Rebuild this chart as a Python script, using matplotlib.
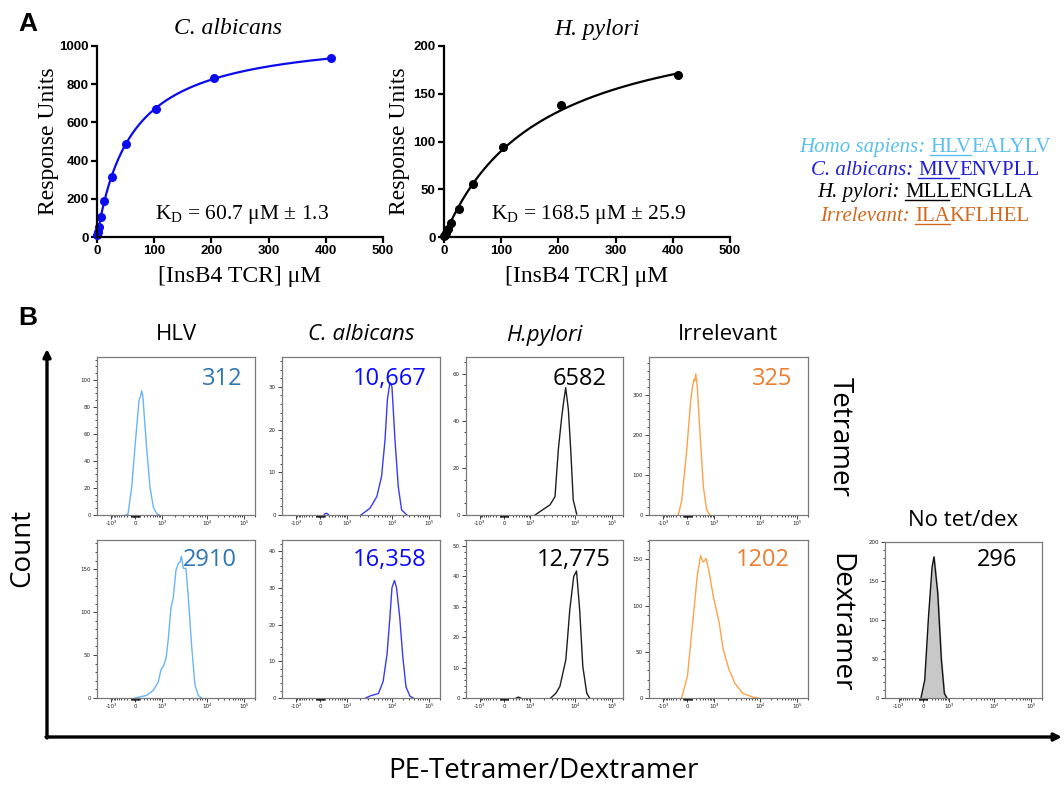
import numpy as np
import matplotlib
matplotlib.use("Agg")
import matplotlib.pyplot as plt
from matplotlib.ticker import AutoMinorLocator
from matplotlib.lines import Line2D
from matplotlib.patches import FancyArrowPatch

plt.rcParams["mathtext.fontset"] = "custom"
plt.rcParams["mathtext.rm"] = "Liberation Serif"
plt.rcParams["mathtext.it"] = "Liberation Serif:italic"

# ---- panel A : SPR, InsB4 TCR titration
conc = [0.8, 1.6, 3.2, 6.4, 12.8, 25.6, 51.2, 102.4, 204.8, 409.6]
ca_ru = [13, 27, 52, 104, 189, 316, 488, 672, 830, 935]
hp_ru = [1, 2, 4, 8, 15, 29, 55, 94, 138, 170]
ca_kd, ca_rmax = 60.7, 1074
hp_kd, hp_rmax = 168.5, 242
ca_kd_txt = r"K$_{\mathrm{D}}$ = 60.7 μM ± 1.3"
hp_kd_txt = r"K$_{\mathrm{D}}$ = 168.5 μM ± 25.9"

# ---- panel B : flow histograms (x = display channel 0-1000, y = count)
col_titles = ["HLV", "C. albicans", "H.pylori", "Irrelevant"]
tet_hlv_x = [180, 196, 220, 240, 266, 276, 283, 290, 314, 335, 356, 378, 395]
tet_hlv_y = [0, 0.5, 21, 50, 85, 88, 92, 88, 50, 21, 6, 1, 0]
tet_ca_x = [265, 272, 280, 288, 295]
tet_ca_y = [0, 0.3, 0.4, 0.3, 0]
tet_ca2_x = [500, 557, 600, 630, 652, 667, 683, 696, 715, 736, 757, 790]
tet_ca2_y = [0, 1.6, 4.3, 9, 17.6, 27, 31, 30, 17.6, 6.6, 1.2, 0]
tet_hp_x = [440, 470, 535, 567, 588, 610, 624, 635, 652, 667, 683, 705]
tet_hp_y = [0, 1.4, 4.3, 7.8, 27.7, 41.8, 49, 54, 44.7, 27.7, 6.4, 0.4]
tet_irr_x = [184, 206, 237, 262, 272, 283, 288, 294, 304, 321, 342, 363, 384]
tet_irr_y = [0, 37, 161, 285, 317, 339, 335, 353, 318, 203, 70, 12, 0]

dex_hlv_x = [240, 314, 357, 388, 405, 420, 437, 452, 468, 483, 500, 515, 525, 534, 547, 563, 578, 600, 620, 641, 662]
dex_hlv_y = [0, 3, 9, 19, 33, 37, 46, 70, 105, 117, 149, 157, 158, 165, 151, 151, 117, 58, 15, 3, 0]
dex_ca_x = [530, 560, 610, 640, 665, 683, 696, 712, 725, 745, 765, 785, 810, 830]
dex_ca_y = [0, 0.6, 1.2, 4.5, 12, 22, 30, 32, 30, 22, 11, 3, 0.5, 0]
dex_hp_x = [320, 334, 348]
dex_hp_y = [0, 0.3, 0]
dex_hp2_x = [540, 573, 598, 636, 661, 686, 704, 724, 744, 769, 787]
dex_hp2_y = [0, 1.6, 3.8, 12.6, 29, 40, 41.8, 29, 10.4, 1.6, 0]
dex_irr_x = [205, 242, 279, 304, 324, 341, 359, 379, 403, 441, 466, 503, 540, 590, 652, 689]
dex_irr_y = [0, 24, 89, 133, 154, 147, 151, 136, 111, 82, 53, 31, 16, 5, 1, 0]
none_x = [229, 253, 277, 300, 312, 336, 359, 378, 394]
none_y = [0, 23, 104, 168, 181, 134, 49, 6, 0]

tet_mfi = ["312", "10,667", "6582", "325"]
dex_mfi = ["2910", "16,358", "12,775", "1202"]
none_mfi = "296"
tet_ymax = [117, 37, 67, 395]
tet_step = [20, 10, 20, 100]
dex_ymax = [184, 43, 52, 171]
dex_step = [50, 10, 10, 50]

line_cols = ["#6ab4f8", "#3a3af5", "#1e1e1e", "#ffa24a"]
num_cols = ["#2e75b6", "#0a0aff", "#000000", "#ed7d31"]

W, H = 1064, 785
fig = plt.figure(figsize=(W / 100, H / 100), dpi=100)


def box(x0, y0, x1, y1):
    return fig.add_axes([x0 / W, 1 - y1 / H, (x1 - x0) / W, (y1 - y0) / H])


def put(x, y, s, **kw):
    return fig.text(x / W, 1 - y / H, s, **kw)


serif = "Liberation Serif"
put(28, 24, "A", fontsize=19, fontweight="bold", family="Liberation Sans", ha="center", va="center")
put(28, 318, "B", fontsize=19, fontweight="bold", family="Liberation Sans", ha="center", va="center")

# ---- panel A
panels = [
    ((97, 383), ca_ru, ca_kd, ca_rmax, "#0b0bf0", [0, 200, 400, 600, 800, 1000], "C. albicans", ca_kd_txt, 228, 49),
    ((444, 730), hp_ru, hp_kd, hp_rmax, "black", [0, 50, 100, 150, 200], "H. pylori", hp_kd_txt, 597, 400),
]
for (x0, x1), ru, kd, rmax, col, yt, title, kdtxt, tx, ylx in panels:
    ax = box(x0, 46, x1, 237)
    xx = np.linspace(0, max(conc), 400)
    ax.plot(xx, rmax * xx / (kd + xx), color=col, lw=1.6, clip_on=False)
    ax.plot(conc, ru, "o", color=col, ms=5.5, clip_on=False)
    ax.set_xlim(0, 500)
    ax.set_ylim(0, yt[-1])
    ax.set_xticks(range(0, 501, 100))
    ax.set_yticks(yt)
    ax.spines[["top", "right"]].set_visible(False)
    for s in ("left", "bottom"):
        ax.spines[s].set_linewidth(1.6)
    ax.tick_params(width=1.6, length=4, pad=2, labelsize=9.5)
    plt.setp(ax.get_xticklabels() + ax.get_yticklabels(), fontweight="bold", family="Liberation Sans")
    cx = (x0 + x1) / 2
    put(tx, 29, title, fontsize=17, style="italic", family=serif, ha="center", va="center")
    put(ylx, 141, "Response Units", fontsize=17, family=serif, rotation=90, ha="center", va="center")
    put(cx, 277, "[InsB4 TCR] μM", fontsize=17, family=serif, ha="center", va="center")
    put(cx + 2, 215, kdtxt, fontsize=15.5, family=serif, ha="center", va="center")

# ---- epitope legend with underlined anchor residues
legend = [
    ("Homo sapiens", "HLV", "EALYLV", "#5bc0f0", 152),
    ("C. albicans", "MIV", "ENVPLL", "#1f1fd6", 175),
    ("H. pylori", "MLL", "ENGLLA", "#000000", 197),
    ("Irrelevant", "ILA", "KFLHEL", "#d2691e", 221),
]
rend = fig.canvas.get_renderer()
for sp, core, rest, c, yb in legend:
    kw = dict(fontsize=15, color=c, family=serif, va="baseline", ha="left")
    t1 = put(0, yb, sp + ":", style="italic", **kw)
    t2 = put(0, yb, core, **kw)
    t3 = put(0, yb, rest, **kw)
    w1, w2, w3 = [t.get_window_extent(rend).width for t in (t1, t2, t3)]
    gap = 5
    xs = 925 - (w1 + gap + w2 + w3) / 2
    t1.set_x(xs / W)
    t2.set_x((xs + w1 + gap) / W)
    t3.set_x((xs + w1 + gap + w2) / W)
    ux0, ux1 = xs + w1 + gap, xs + w1 + gap + w2
    fig.add_artist(Line2D([ux0 / W, ux1 / W], [1 - (yb + 3) / H] * 2, color=c, lw=1.0,
                          transform=fig.transFigure))

# ---- panel B
def chan(v):
    # biexponential display, pinned to the decade ticks of the plots
    v = np.asarray(v, float)
    out = np.empty_like(v)
    hi = v >= 1000
    out[hi] = np.interp(np.log10(v[hi]), [3, 4, 5, 6], [410, 695, 928, 1161])
    f = np.arcsinh(v[~hi] / 300) / np.arcsinh(1000 / 300)
    out[~hi] = 242 + np.where(f >= 0, 168, 154) * f
    return out


major_v = [-1000, 0, 1000, 1e4, 1e5]
major_lab = ["-10³", "0", "10³", "10⁴", "10⁵"]
small = [k * 10 for k in range(1, 10)] + [k * 100 for k in range(1, 10)]
minor_v = [-s for s in small] + small + [k * 1e3 for k in range(2, 10)] + [k * 1e4 for k in range(2, 10)] + [2e5]


def flow(x0, x1, y0, y1, curves, ymax, ystep, lc, num, nc, fill=None, dx=15, dy=21):
    ax = box(x0, y0, x1, y1)
    for xs, ys in curves:
        if fill:
            ax.fill_between(xs, ys, color=fill)
        ax.plot(xs, ys, color=lc, lw=1.0)
    ax.set_xlim(0, 1000)
    ax.set_ylim(0, ymax)
    for s in ax.spines.values():
        s.set_color("#7a7a7a")
        s.set_linewidth(0.9)
    ax.set_xticks(chan(major_v))
    ax.set_xticklabels(major_lab, family="DejaVu Sans")
    ax.set_xticks(chan(minor_v), minor=True)
    ax.set_yticks(np.arange(0, ymax + 0.1, ystep))
    ax.yaxis.set_minor_locator(AutoMinorLocator())
    ax.tick_params(labelsize=4, length=3, width=0.6, pad=1.5, colors="#222222")
    ax.tick_params(which="minor", length=1.6, width=0.5)
    ax.text(1 - dx / (x1 - x0), 1 - dy / (y1 - y0), num, transform=ax.transAxes, ha="right",
            va="center", fontsize=17, color=nc, family="Open Sans")
    return ax


cols = [(97, 255), (282, 440), (466, 623), (649, 808)]
tet_data = [[(tet_hlv_x, tet_hlv_y)], [(tet_ca_x, tet_ca_y), (tet_ca2_x, tet_ca2_y)],
            [(tet_hp_x, tet_hp_y)], [(tet_irr_x, tet_irr_y)]]
dex_data = [[(dex_hlv_x, dex_hlv_y)], [(dex_ca_x, dex_ca_y)],
            [(dex_hp_x, dex_hp_y), (dex_hp2_x, dex_hp2_y)], [(dex_irr_x, dex_irr_y)]]
tet_dx = [13, 13, 17, 16]
dex_dx = [18, 13, 12, 18]
for i, (x0, x1) in enumerate(cols):
    flow(x0, x1, 357, 515, tet_data[i], tet_ymax[i], tet_step[i], line_cols[i], tet_mfi[i], num_cols[i], dx=tet_dx[i], dy=22)
    flow(x0, x1, 540, 698, dex_data[i], dex_ymax[i], dex_step[i], line_cols[i], dex_mfi[i], num_cols[i], dx=dex_dx[i], dy=20)
    st = "italic" if i in (1, 2) else "normal"
    put((x0 + x1) / 2, 335, col_titles[i], fontsize=16, style=st, family="Open Sans", ha="center", va="center")

flow(885, 1042, 542, 698, [(none_x, none_y)], 200, 50, "#111111", none_mfi, "black", fill="#c8c8c8", dx=25, dy=18)
put(963, 521, "No tet/dex", fontsize=16, family="Open Sans", ha="center", va="center")

put(840, 437, "Tetramer", fontsize=20, family="Open Sans", rotation=270, ha="center", va="center")
put(840, 623, "Dextramer", fontsize=20, family="Open Sans", rotation=270, ha="center", va="center")
put(22, 548, "Count", fontsize=20, family="Open Sans", rotation=90, ha="center", va="center")
put(543, 771, "PE-Tetramer/Dextramer", fontsize=20, family="Open Sans", ha="center", va="center")

for a, b in [((47, 738), (47, 349)), ((46, 737), (1062, 737))]:
    fig.add_artist(FancyArrowPatch((a[0] / W, 1 - a[1] / H), (b[0] / W, 1 - b[1] / H),
                                   transform=fig.transFigure, arrowstyle="-|>", mutation_scale=11,
                                   lw=2.4, color="black", shrinkA=0, shrinkB=0))

fig.savefig("out.png", dpi=100)
